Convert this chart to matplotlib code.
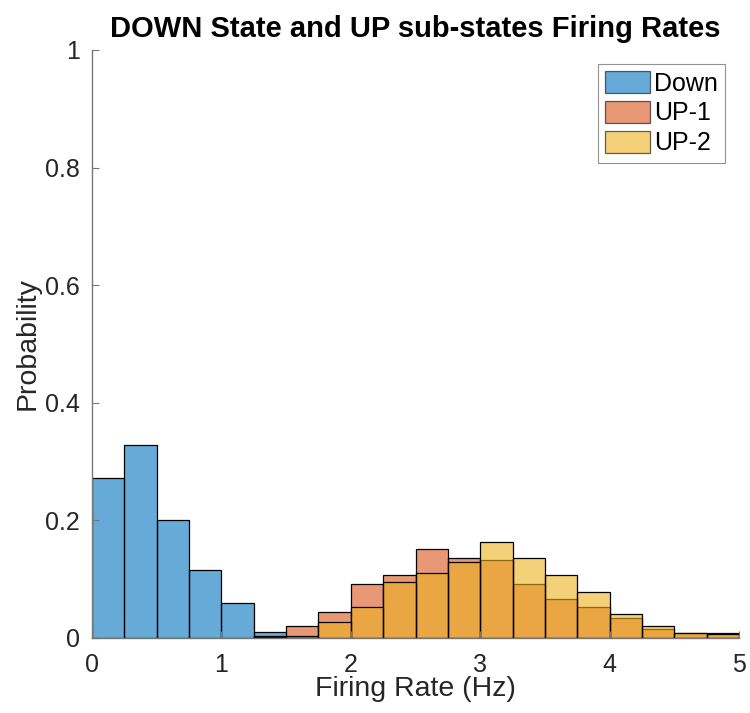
import matplotlib
matplotlib.use("Agg")
import matplotlib.pyplot as plt
import numpy as np

plt.rcParams['font.family'] = ['Liberation Sans', 'DejaVu Sans']

bin_edges = np.arange(0, 5.0001, 0.25)
down = [0.272, 0.328, 0.201, 0.116, 0.059, 0.011, 0.002, 0, 0, 0,
        0, 0, 0, 0, 0, 0, 0, 0, 0, 0]
up1 = [0, 0, 0, 0, 0, 0.003, 0.020, 0.044, 0.092, 0.107,
       0.151, 0.136, 0.132, 0.092, 0.067, 0.052, 0.034, 0.016, 0.009, 0.009]
up2 = [0, 0, 0, 0, 0, 0.001, 0.004, 0.027, 0.053, 0.096,
       0.111, 0.129, 0.164, 0.136, 0.107, 0.078, 0.040, 0.020, 0.008, 0.007]
labels = ['Down', 'UP-1', 'UP-2']
colors = [(0, 0.447, 0.741), (0.85, 0.325, 0.098), (0.929, 0.694, 0.125)]

fig = plt.figure(figsize=(7.5, 7.13), dpi=100)
ax = fig.add_axes([0.1227, 0.1052, 0.8626, 0.8247])

left = bin_edges[:-1]
w = np.diff(bin_edges)
for vals, c, lab in zip([down, up1, up2], colors, labels):
    v = np.array(vals)
    m = v > 0
    ax.bar(left[m], v[m], width=w[m], align='edge', color=c, alpha=0.6,
           edgecolor='none', label=lab)
    ax.bar(left[m], v[m], width=w[m], align='edge', fill=False,
           edgecolor='black', linewidth=0.9)

ax.set_xlim(0, 5)
ax.set_ylim(0, 1)
ax.set_xticks([0, 1, 2, 3, 4, 5])
ax.set_yticks([0, 0.2, 0.4, 0.6, 0.8, 1])
ax.set_yticklabels(['0', '0.2', '0.4', '0.6', '0.8', '1'])
for s in ['top', 'right']:
    ax.spines[s].set_visible(False)
for s in ['left', 'bottom']:
    ax.spines[s].set_color('#777777')
    ax.spines[s].set_linewidth(1.0)
ax.tick_params(direction='in', length=5, width=0.8, color='#777777',
               labelsize=18, labelcolor='#262626')
ax.tick_params(axis='x', pad=11)
ax.tick_params(axis='y', pad=9)
ax.set_xlabel('Firing Rate (Hz)', fontsize=20.5, color='#262626', labelpad=-1)
ax.set_ylabel('Probability', fontsize=20.5, color='#262626', labelpad=3)
ax.set_title('DOWN State and UP sub-states Firing Rates', fontsize=21,
             fontweight='bold', pad=9)

leg = ax.legend(loc='upper right', fontsize=18, frameon=True, fancybox=False,
                edgecolor='#777777', handlelength=1.8, handleheight=0.95,
                handletextpad=0.15, borderpad=0.3, labelspacing=0.22,
                borderaxespad=0.55)
for h in leg.legend_handles:
    h.set_edgecolor('black')
    h.set_linewidth(0.9)
leg.get_frame().set_linewidth(0.8)

fig.savefig('out.png', dpi=100)
